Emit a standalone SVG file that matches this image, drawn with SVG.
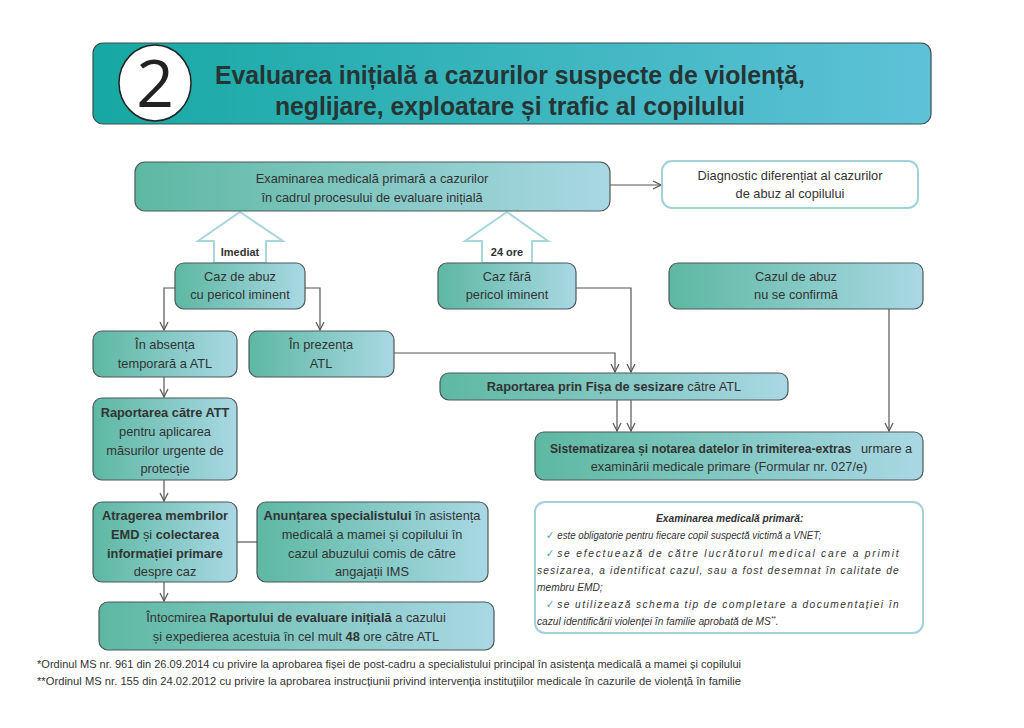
<svg xmlns="http://www.w3.org/2000/svg" width="1024" height="728" viewBox="0 0 1024 728">
<defs>
<linearGradient id="hdr" x1="0" y1="0" x2="1" y2="0">
<stop offset="0" stop-color="#16a8a3"/>
<stop offset="1" stop-color="#5ec2d8"/>
</linearGradient>
<linearGradient id="nd" x1="0" y1="0" x2="1" y2="0">
<stop offset="0" stop-color="#5db8a2"/>
<stop offset="1" stop-color="#a9d8e4"/>
</linearGradient>
<marker id="ah" viewBox="0 0 10 10" refX="9" refY="5" markerWidth="10" markerHeight="10" markerUnits="userSpaceOnUse" orient="auto">
<path d="M1,1 L9,5 L1,9" fill="none" stroke="#555" stroke-width="1.2"/>
</marker>
<style>
text{font-family:"Liberation Sans",Arial,sans-serif;fill:#333;}
.n{fill:url(#nd);stroke:#4c5858;stroke-width:1.2;}
.w{fill:#fff;stroke:#9fd3d9;stroke-width:2;}
.t{font-size:12.8px;text-anchor:middle;}
.l{font-size:12.8px;}
.b{font-weight:bold;}
.c{fill:none;stroke:#555;stroke-width:1.2;}
.ha{fill:#fff;stroke:#a6d7dd;stroke-width:2;}
.it{font-size:11.6px;font-style:italic;}
.ck{font-size:11px;fill:#3aa6b0;}
.fn{font-size:10.5px;}
</style>
</defs>

<g id="header">
<rect x="93" y="43" width="838" height="81" rx="10" fill="url(#hdr)" stroke="#3e4c4c" stroke-width="1.2"/>
<ellipse cx="155" cy="83" rx="36" ry="38" fill="#fff" stroke="#222" stroke-width="1.5"/>
<text x="155" y="107" style="font-family:'Open Sans',sans-serif;font-size:66px;text-anchor:middle;fill:#222">2</text>
<text x="510" y="84" class="b" style="font-size:25px;text-anchor:middle;fill:#263434" textLength="590" lengthAdjust="spacingAndGlyphs">Evaluarea inițială a cazurilor suspecte de violență,</text>
<text x="510" y="115" class="b" style="font-size:25px;text-anchor:middle;fill:#263434" textLength="470" lengthAdjust="spacingAndGlyphs">neglijare, exploatare și trafic al copilului</text>
</g>

<g id="connectors">
<line class="c" x1="610" y1="185" x2="661" y2="185" marker-end="url(#ah)"/>
<polyline class="c" points="175,288 164,288 164,330" marker-end="url(#ah)"/>
<polyline class="c" points="305,288 320,288 320,330" marker-end="url(#ah)"/>
<polyline class="c" points="394,353 615,353 615,372" marker-end="url(#ah)"/>
<polyline class="c" points="576,288 631,288 631,372" marker-end="url(#ah)"/>
<line class="c" x1="617" y1="400" x2="617" y2="431" marker-end="url(#ah)"/>
<line class="c" x1="631" y1="400" x2="631" y2="431" marker-end="url(#ah)"/>
<line class="c" x1="889" y1="309" x2="889" y2="431" marker-end="url(#ah)"/>
<line class="c" x1="164" y1="377" x2="164" y2="397" marker-end="url(#ah)"/>
<line class="c" x1="164" y1="480" x2="164" y2="501" marker-end="url(#ah)"/>
<line class="c" x1="237" y1="542" x2="257" y2="542"/>
<line class="c" x1="164" y1="582" x2="164" y2="601" marker-end="url(#ah)"/>
<g id="arrow-imediat">
<path class="ha" d="M240,212 L283,241 L266,241 L266,263 L214,263 L214,241 L198,241 Z"/>
<text x="240" y="256" class="b" style="font-size:11px;text-anchor:middle">Imediat</text>
</g>
<g id="arrow-24">
<path class="ha" d="M507,212 L548,241 L532,241 L532,263 L482,263 L482,241 L465,241 Z"/>
<text x="507" y="256" class="b" style="font-size:11px;text-anchor:middle">24 ore</text>
</g>
</g>

<g id="n-exam">
<rect class="n" x="135" y="162" width="475" height="49" rx="10"/>
<text class="t" x="372" y="183">Examinarea medicală primară a cazurilor</text>
<text class="t" x="372" y="202">în cadrul procesului de evaluare inițială</text>
</g>
<g id="n-diag">
<rect class="w" x="662" y="161" width="256" height="47" rx="10"/>
<text class="t" x="790" y="180">Diagnostic diferențiat al cazurilor</text>
<text class="t" x="790" y="198">de abuz al copilului</text>
</g>
<g id="n-caz1">
<rect class="n" x="175" y="263" width="130" height="46" rx="9"/>
<text class="t" x="240" y="281">Caz de abuz</text>
<text class="t" x="240" y="299">cu pericol iminent</text>
</g>
<g id="n-caz2">
<rect class="n" x="438" y="263" width="138" height="46" rx="9"/>
<text class="t" x="507" y="281">Caz fără</text>
<text class="t" x="507" y="299">pericol iminent</text>
</g>
<g id="n-caz3">
<rect class="n" x="669" y="263" width="254" height="46" rx="9"/>
<text class="t" x="796" y="281">Cazul de abuz</text>
<text class="t" x="796" y="299">nu se confirmă</text>
</g>
<g id="n-abs">
<rect class="n" x="93" y="331" width="144" height="46" rx="9"/>
<text class="t" x="165" y="349">În absența</text>
<text class="t" x="165" y="368">temporară a ATL</text>
</g>
<g id="n-prez">
<rect class="n" x="249" y="331" width="145" height="46" rx="9"/>
<text class="t" x="321" y="349">În prezența</text>
<text class="t" x="321" y="368">ATL</text>
</g>
<g id="n-fisa">
<rect class="n" x="440" y="373" width="348" height="27" rx="9"/>
<text class="t" x="614" y="391"><tspan class="b">Raportarea prin Fișa de sesizare</tspan> către ATL</text>
</g>
<g id="n-att">
<rect class="n" x="93" y="398" width="144" height="82" rx="9"/>
<text class="t b" x="165" y="417">Raportarea către ATT</text>
<text class="t" x="165" y="436">pentru aplicarea</text>
<text class="t" x="165" y="455">măsurilor urgente de</text>
<text class="t" x="165" y="473">protecție</text>
</g>
<g id="n-sist">
<rect class="n" x="535" y="432" width="388" height="48" rx="9"/>
<text class="b" x="550" y="453" style="font-size:12.1px">Sistematizarea și notarea datelor în trimiterea-extras</text>
<text class="l" x="861" y="453">urmare a</text>
<text class="t" x="729" y="471">examinării medicale primare (Formular nr. 027/e)</text>
</g>
<g id="n-atr">
<rect class="n" x="93" y="502" width="144" height="80" rx="9"/>
<text class="t b" x="165" y="520">Atragerea membrilor</text>
<text class="t" x="165" y="539"><tspan class="b">EMD</tspan> și <tspan class="b">colectarea</tspan></text>
<text class="t b" x="165" y="558">informației primare</text>
<text class="t" x="165" y="576">despre caz</text>
</g>
<g id="n-anun">
<rect class="n" x="257" y="502" width="231" height="80" rx="9"/>
<text class="t" x="372" y="520"><tspan class="b">Anunțarea specialistului</tspan> în asistența</text>
<text class="t" x="372" y="539">medicală a mamei și copilului în</text>
<text class="t" x="372" y="558">cazul abuzului comis de către</text>
<text class="t" x="372" y="576">angajații IMS</text>
</g>
<g id="n-into">
<rect class="n" x="99" y="602" width="395" height="48" rx="9"/>
<text class="t" x="296" y="622">Întocmirea <tspan class="b">Raportului de evaluare inițială</tspan> a cazului</text>
<text class="t" x="296" y="641">și expedierea acestuia în cel mult <tspan class="b">48</tspan> ore către ATL</text>
</g>
<g id="n-info">
<rect class="w" x="535" y="502" width="388" height="131" rx="10"/>
<g transform="translate(537,0) scale(0.88,1)">
<text x="219" y="522" class="it b" style="text-anchor:middle">Examinarea medicală primară:</text>
<text x="10" y="539" class="ck">✓</text>
<text x="23" y="539" class="it" textLength="300" lengthAdjust="spacingAndGlyphs">este obligatorie pentru fiecare copil suspectă victimă a VNET;</text>
<text x="10" y="557" class="ck">✓</text>
<text x="23" y="557" class="it" textLength="388" lengthAdjust="spacing">se efectuează de către lucrătorul medical care a primit</text>
<text x="0" y="574" class="it" textLength="411" lengthAdjust="spacing">sesizarea, a identificat cazul, sau a fost desemnat în calitate de</text>
<text x="0" y="591" class="it">membru EMD;</text>
<text x="10" y="608" class="ck">✓</text>
<text x="23" y="608" class="it" textLength="388" lengthAdjust="spacing">se utilizează schema tip de completare a documentației în</text>
<text x="0" y="625" class="it">cazul identificării violenței în familie aprobată de MS<tspan dy="-4" style="font-size:7px">**</tspan><tspan dy="4">.</tspan></text>
</g>
</g>

<g id="footnotes">
<text x="37" y="668" class="fn" textLength="704" lengthAdjust="spacingAndGlyphs">*Ordinul MS nr. 961 din 26.09.2014 cu privire la aprobarea fișei de post-cadru a specialistului principal în asistența medicală a mamei și copilului</text>
<text x="37" y="685" class="fn" textLength="704" lengthAdjust="spacingAndGlyphs">**Ordinul MS nr. 155 din 24.02.2012 cu privire la aprobarea instrucțiunii privind intervenția instituțiilor medicale în cazurile de violență în familie</text>
</g>
</svg>
